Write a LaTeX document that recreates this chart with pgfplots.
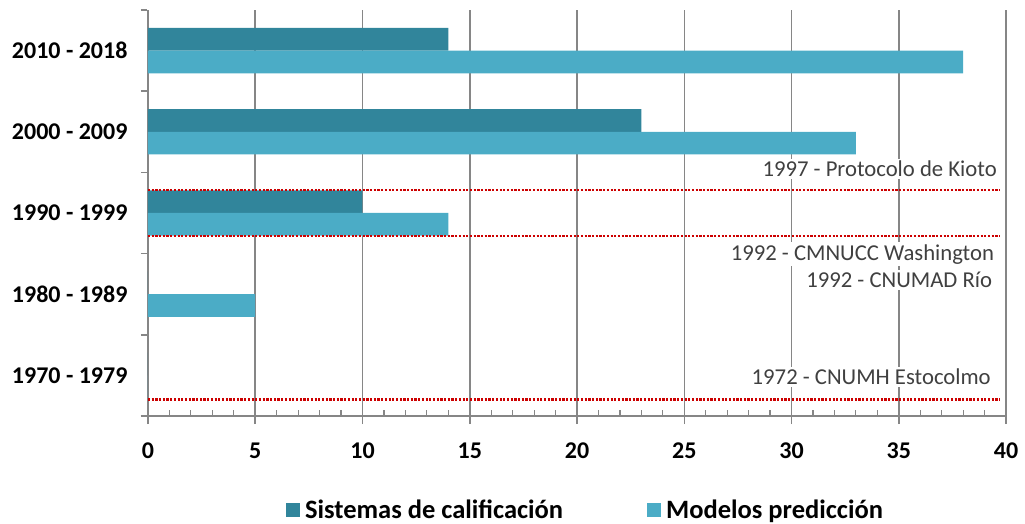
\documentclass[border=0pt]{standalone}
\usepackage{fontspec}
\setmainfont{Carlito}
\usepackage{pgfplots}
\pgfplotsset{compat=1.18}
\definecolor{darkteal}{RGB}{49,133,155}
\definecolor{lightteal}{RGB}{75,172,198}
\definecolor{gridgray}{RGB}{134,134,134}
\definecolor{txtgray}{RGB}{64,64,64}
\definecolor{dotred}{RGB}{204,0,0}
\begin{document}
\begin{tikzpicture}
\useasboundingbox (-148pt,-108pt) rectangle (877pt,416pt);
\begin{axis}[
  at={(0,0)}, anchor=south west,
  scale only axis, width=858pt, height=406pt,
  xbar, bar width=22.7pt,
  xmin=0, xmax=40, ymin=-0.5, ymax=4.5,
  xtick={0,5,...,40}, minor x tick num=4,
  ytick={0,1,2,3,4},
  yticklabels={1970 - 1979, 1980 - 1989, 1990 - 1999, 2000 - 2009, 2010 - 2018},
  minor ytick={-0.5,0.5,...,4.5},
  axis x line*=bottom, axis y line*=left,
  axis line style={gridgray, line width=1.5pt, -},
  x axis line style={shorten <=-7pt},
  tick align=outside,
  major tick length=8pt, minor tick length=6pt,
  major x tick style={gridgray, line width=1.5pt},
  minor x tick style={gridgray, line width=1.2pt, yshift=6pt},
  major y tick style={draw=none},
  minor y tick style={gridgray, line width=1.5pt, xshift=-1pt},
  xmajorgrids, major grid style={gridgray, line width=1.5pt},
  ticklabel style={font=\bfseries\fontsize{24}{28}\selectfont, text=black},
  /pgf/number format/assume math mode=true,
  yticklabel style={xshift=-9pt},
  xticklabel style={yshift=-15pt},
  legend image code/.code={\fill[#1] (0pt,-7pt) rectangle (14pt,7pt); \path (17pt,0pt);},
  legend style={draw=none, at={(axis description cs:0.5100,-0.2315)}, anchor=center,
    legend columns=2, font=\bfseries\fontsize{26.5}{30}\selectfont, inner sep=0pt,
    /tikz/every even column/.append style={column sep=82pt}},
  legend cell align=left,
]
\addplot[fill=darkteal, draw=none, bar shift=11.35pt] coordinates {(0,0) (0,1) (10,2) (23,3) (14,4)};
\addplot[fill=lightteal, draw=none, bar shift=-11.35pt] coordinates {(0,0) (5,1) (14,2) (33,3) (38,4)};
\legend{Sistemas de calificación, Modelos predicción}
\addplot[sharp plot, dotred, line width=2.8pt, dash pattern=on 2.2pt off 1.5pt, forget plot, mark=none] coordinates {(0,2.283) (39.7,2.283)};
\addplot[sharp plot, dotred, line width=2.8pt, dash pattern=on 2.2pt off 1.5pt, forget plot, mark=none] coordinates {(0,1.717) (39.7,1.717)};
\addplot[sharp plot, dotred, line width=2.8pt, dash pattern=on 2.2pt off 1.5pt, forget plot, mark=none] coordinates {(0,-0.3) (39.7,-0.3)};
\begin{scope}[every node/.style={fill=white, inner sep=2pt, text=txtgray, font=\fontsize{22.7}{26}\selectfont}]
\node[anchor=base east] at (axis cs:39.67,2.447) {1997 - Protocolo de Kioto};
\node[anchor=base east] at (axis cs:39.54,1.421) {1992 - CMNUCC Washington};
\node[anchor=base east] at (axis cs:39.45,1.080) {1992 - CNUMAD Río};
\node[anchor=base east] at (axis cs:39.39,-0.118) {1972 - CNUMH Estocolmo};
\end{scope}
\end{axis}
\end{tikzpicture}
\end{document}
